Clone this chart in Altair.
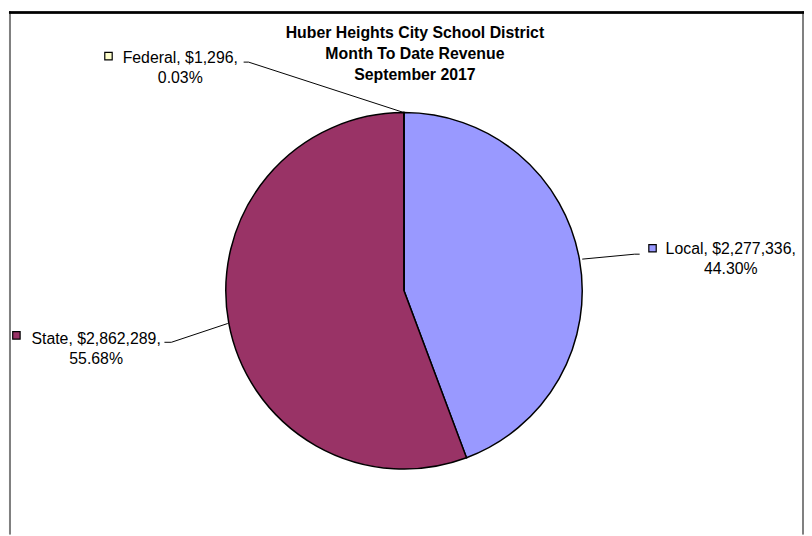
import altair as alt
import pandas as pd

# ---- data ----
categories = ["Local", "State", "Federal"]
amounts = [2277336, 2862289, 1296]
percents = ["44.30%", "55.68%", "0.03%"]
colors = ["#9999FF", "#993366", "#FFFFCC"]
title_lines = ["Huber Heights City School District", "Month To Date Revenue", "September 2017"]

# ---- layout (pixel positions, chart coordinates) ----
CX, CY, R = 399, 282, 180
label_layout = {
    "Local":   {"tx": 729, "ty1": 245, "ty2": 265, "sx": 650, "sy": 239},
    "State":   {"tx": 88,  "ty1": 336, "ty2": 356, "sx": 7.5, "sy": 327},
    "Federal": {"tx": 173, "ty1": 52,  "ty2": 72,  "sx": 100.5, "sy": 45},
}
leader_segments = [
    (579, 250, 632, 245), (632, 245, 637, 245),
    (157, 334, 164, 334), (164, 334, 221, 315),
    (237, 51, 242, 51), (242, 51, 399, 102),
]
title_pos = {"x": 410, "y": [27, 48, 69]}

W, H = 804, 528

pie_df = pd.DataFrame({"cat": categories, "amount": amounts, "ord": list(range(len(categories)))})

lab_rows = []
for c, a, p in zip(categories, amounts, percents):
    L = label_layout[c]
    lab_rows.append({"cat": c, "line1": f"{c}, ${a:,},", "line2": p, **L})
lab_df = pd.DataFrame(lab_rows)

seg_df = pd.DataFrame(leader_segments, columns=["x", "y", "x2", "y2"])
title_df = pd.DataFrame({"t": title_lines, "y": title_pos["y"], "x": [title_pos["x"]] * 3})

color_scale = alt.Scale(domain=categories, range=colors)
FONT = "Liberation Sans"

arc = alt.Chart(pie_df).mark_arc(outerRadius=R, stroke="black", strokeWidth=1.5).encode(
    theta=alt.Theta("amount:Q", stack=True),
    color=alt.Color("cat:N", scale=color_scale, legend=None),
    order=alt.Order("ord:Q"),
    x=alt.value(CX),
    y=alt.value(CY),
)

leaders = alt.Chart(seg_df).mark_rule(color="black", strokeWidth=1).encode(
    x=alt.X("x:Q", scale=None), y=alt.Y("y:Q", scale=None),
    x2="x2:Q", y2="y2:Q",
)

squares = alt.Chart(lab_df).mark_square(size=56, stroke="black", strokeWidth=1.2, opacity=1).encode(
    x=alt.X("sx:Q", scale=None), y=alt.Y("sy:Q", scale=None),
    color=alt.Color("cat:N", scale=color_scale, legend=None),
)

text1 = alt.Chart(lab_df).mark_text(font=FONT, fontSize=16, align="center", baseline="alphabetic", color="black").encode(
    x=alt.X("tx:Q", scale=None), y=alt.Y("ty1:Q", scale=None), text="line1:N",
)
text2 = alt.Chart(lab_df).mark_text(font=FONT, fontSize=16, align="center", baseline="alphabetic", color="black").encode(
    x=alt.X("tx:Q", scale=None), y=alt.Y("ty2:Q", scale=None), text="line2:N",
)

title = alt.Chart(title_df).mark_text(font=FONT, fontSize=16, fontWeight="bold", align="center", baseline="alphabetic", color="black").encode(
    x=alt.X("x:Q", scale=None), y=alt.Y("y:Q", scale=None), text="t:N",
)

border_left = alt.Chart(pie_df).mark_rule(color="#808080", strokeWidth=2).encode(
    x=alt.value(1), x2=alt.value(1), y=alt.value(0), y2=alt.value(H))
border_right = alt.Chart(pie_df).mark_rule(color="#808080", strokeWidth=2).encode(
    x=alt.value(802), x2=alt.value(802), y=alt.value(0), y2=alt.value(H))
border_top = alt.Chart(pie_df).mark_rule(color="black", strokeWidth=2).encode(
    x=alt.value(0), x2=alt.value(803), y=alt.value(1), y2=alt.value(1))

chart = alt.layer(arc, leaders, squares, text1, text2, title, border_left, border_right, border_top).properties(
    width=W, height=H, padding=0,
    autosize=alt.AutoSizeParams(type="fit", contains="padding"),
    background="white",
).configure_view(stroke=None)

chart.save("out.html", embed_options={"renderer": "svg", "actions": False})
